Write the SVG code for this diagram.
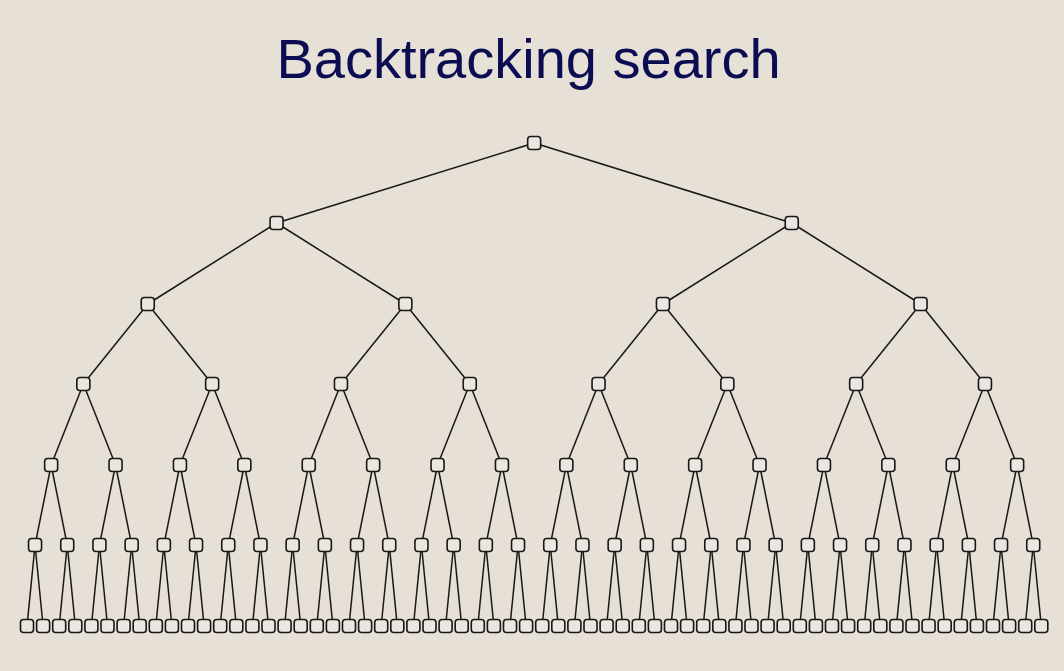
<svg xmlns="http://www.w3.org/2000/svg" xmlns:xlink="http://www.w3.org/1999/xlink" width="1064" height="671" viewBox="0 0 1064 671">
<style>
.bg{fill:#e6e0d6}
.t{font-family:"Liberation Sans",Arial,sans-serif;font-size:56px;fill:#0c0c52}
.e path{stroke:#181818;stroke-width:1.5;fill:none}
.bx{fill:#ebe7e0;stroke:#181818;stroke-width:1.6}
</style>
<defs>
<rect id="b" class="bx" x="-6.5" y="-6.5" width="13" height="13" rx="3"/>
</defs>
<rect class="bg" x="0" y="0" width="1064" height="671"/>
<text class="t" x="528.5" y="78" text-anchor="middle">Backtracking search</text>
<g id="connectors" class="e">
<path d="M534.15 143L276.55 223"/><path d="M534.15 143L791.75 223"/>
<path d="M276.55 223L147.75 304"/><path d="M276.55 223L405.35 304"/><path d="M791.75 223L662.95 304"/><path d="M791.75 223L920.55 304"/>
<path d="M147.75 304L83.35 384"/><path d="M147.75 304L212.15 384"/><path d="M405.35 304L340.95 384"/><path d="M405.35 304L469.75 384"/><path d="M662.95 304L598.55 384"/><path d="M662.95 304L727.35 384"/><path d="M920.55 304L856.15 384"/><path d="M920.55 304L984.95 384"/>
<path d="M83.35 384L51.15 465"/><path d="M83.35 384L115.55 465"/><path d="M212.15 384L179.95 465"/><path d="M212.15 384L244.35 465"/><path d="M340.95 384L308.75 465"/><path d="M340.95 384L373.15 465"/><path d="M469.75 384L437.55 465"/><path d="M469.75 384L501.95 465"/><path d="M598.55 384L566.35 465"/><path d="M598.55 384L630.75 465"/><path d="M727.35 384L695.15 465"/><path d="M727.35 384L759.55 465"/><path d="M856.15 384L823.95 465"/><path d="M856.15 384L888.35 465"/><path d="M984.95 384L952.75 465"/><path d="M984.95 384L1017.15 465"/>
<path d="M51.15 465L35.05 545"/><path d="M51.15 465L67.25 545"/><path d="M115.55 465L99.45 545"/><path d="M115.55 465L131.65 545"/><path d="M179.95 465L163.85 545"/><path d="M179.95 465L196.05 545"/><path d="M244.35 465L228.25 545"/><path d="M244.35 465L260.45 545"/><path d="M308.75 465L292.65 545"/><path d="M308.75 465L324.85 545"/><path d="M373.15 465L357.05 545"/><path d="M373.15 465L389.25 545"/><path d="M437.55 465L421.45 545"/><path d="M437.55 465L453.65 545"/><path d="M501.95 465L485.85 545"/><path d="M501.95 465L518.05 545"/><path d="M566.35 465L550.25 545"/><path d="M566.35 465L582.45 545"/><path d="M630.75 465L614.65 545"/><path d="M630.75 465L646.85 545"/><path d="M695.15 465L679.05 545"/><path d="M695.15 465L711.25 545"/><path d="M759.55 465L743.45 545"/><path d="M759.55 465L775.65 545"/><path d="M823.95 465L807.85 545"/><path d="M823.95 465L840.05 545"/><path d="M888.35 465L872.25 545"/><path d="M888.35 465L904.45 545"/><path d="M952.75 465L936.65 545"/><path d="M952.75 465L968.85 545"/><path d="M1017.15 465L1001.05 545"/><path d="M1017.15 465L1033.25 545"/>
<path d="M35.05 545L27 626"/><path d="M35.05 545L43.1 626"/><path d="M67.25 545L59.2 626"/><path d="M67.25 545L75.3 626"/><path d="M99.45 545L91.4 626"/><path d="M99.45 545L107.5 626"/><path d="M131.65 545L123.6 626"/><path d="M131.65 545L139.7 626"/><path d="M163.85 545L155.8 626"/><path d="M163.85 545L171.9 626"/><path d="M196.05 545L188 626"/><path d="M196.05 545L204.1 626"/><path d="M228.25 545L220.2 626"/><path d="M228.25 545L236.3 626"/><path d="M260.45 545L252.4 626"/><path d="M260.45 545L268.5 626"/><path d="M292.65 545L284.6 626"/><path d="M292.65 545L300.7 626"/><path d="M324.85 545L316.8 626"/><path d="M324.85 545L332.9 626"/><path d="M357.05 545L349 626"/><path d="M357.05 545L365.1 626"/><path d="M389.25 545L381.2 626"/><path d="M389.25 545L397.3 626"/><path d="M421.45 545L413.4 626"/><path d="M421.45 545L429.5 626"/><path d="M453.65 545L445.6 626"/><path d="M453.65 545L461.7 626"/><path d="M485.85 545L477.8 626"/><path d="M485.85 545L493.9 626"/><path d="M518.05 545L510 626"/><path d="M518.05 545L526.1 626"/><path d="M550.25 545L542.2 626"/><path d="M550.25 545L558.3 626"/><path d="M582.45 545L574.4 626"/><path d="M582.45 545L590.5 626"/><path d="M614.65 545L606.6 626"/><path d="M614.65 545L622.7 626"/><path d="M646.85 545L638.8 626"/><path d="M646.85 545L654.9 626"/><path d="M679.05 545L671 626"/><path d="M679.05 545L687.1 626"/><path d="M711.25 545L703.2 626"/><path d="M711.25 545L719.3 626"/><path d="M743.45 545L735.4 626"/><path d="M743.45 545L751.5 626"/><path d="M775.65 545L767.6 626"/><path d="M775.65 545L783.7 626"/><path d="M807.85 545L799.8 626"/><path d="M807.85 545L815.9 626"/><path d="M840.05 545L832 626"/><path d="M840.05 545L848.1 626"/><path d="M872.25 545L864.2 626"/><path d="M872.25 545L880.3 626"/><path d="M904.45 545L896.4 626"/><path d="M904.45 545L912.5 626"/><path d="M936.65 545L928.6 626"/><path d="M936.65 545L944.7 626"/><path d="M968.85 545L960.8 626"/><path d="M968.85 545L976.9 626"/><path d="M1001.05 545L993 626"/><path d="M1001.05 545L1009.1 626"/><path d="M1033.25 545L1025.2 626"/><path d="M1033.25 545L1041.3 626"/>
</g>
<g id="nodes">
<g id="r"><use href="#b" x="534.15" y="143"/></g>
<g id="a0"><use href="#b" x="276.55" y="223"/></g><g id="a1"><use href="#b" x="791.75" y="223"/></g>
<g id="b0"><use href="#b" x="147.75" y="304"/></g><g id="b1"><use href="#b" x="405.35" y="304"/></g><g id="b2"><use href="#b" x="662.95" y="304"/></g><g id="b3"><use href="#b" x="920.55" y="304"/></g>
<g id="c0"><use href="#b" x="83.35" y="384"/></g><g id="c1"><use href="#b" x="212.15" y="384"/></g><g id="c2"><use href="#b" x="340.95" y="384"/></g><g id="c3"><use href="#b" x="469.75" y="384"/></g><g id="c4"><use href="#b" x="598.55" y="384"/></g><g id="c5"><use href="#b" x="727.35" y="384"/></g><g id="c6"><use href="#b" x="856.15" y="384"/></g><g id="c7"><use href="#b" x="984.95" y="384"/></g>
<g id="d0"><use href="#b" x="51.15" y="465"/></g><g id="d1"><use href="#b" x="115.55" y="465"/></g><g id="d2"><use href="#b" x="179.95" y="465"/></g><g id="d3"><use href="#b" x="244.35" y="465"/></g><g id="d4"><use href="#b" x="308.75" y="465"/></g><g id="d5"><use href="#b" x="373.15" y="465"/></g><g id="d6"><use href="#b" x="437.55" y="465"/></g><g id="d7"><use href="#b" x="501.95" y="465"/></g><g id="d8"><use href="#b" x="566.35" y="465"/></g><g id="d9"><use href="#b" x="630.75" y="465"/></g><g id="d10"><use href="#b" x="695.15" y="465"/></g><g id="d11"><use href="#b" x="759.55" y="465"/></g><g id="d12"><use href="#b" x="823.95" y="465"/></g><g id="d13"><use href="#b" x="888.35" y="465"/></g><g id="d14"><use href="#b" x="952.75" y="465"/></g><g id="d15"><use href="#b" x="1017.15" y="465"/></g>
<g id="e0"><use href="#b" x="35.05" y="545"/></g><g id="e1"><use href="#b" x="67.25" y="545"/></g><g id="e2"><use href="#b" x="99.45" y="545"/></g><g id="e3"><use href="#b" x="131.65" y="545"/></g><g id="e4"><use href="#b" x="163.85" y="545"/></g><g id="e5"><use href="#b" x="196.05" y="545"/></g><g id="e6"><use href="#b" x="228.25" y="545"/></g><g id="e7"><use href="#b" x="260.45" y="545"/></g><g id="e8"><use href="#b" x="292.65" y="545"/></g><g id="e9"><use href="#b" x="324.85" y="545"/></g><g id="e10"><use href="#b" x="357.05" y="545"/></g><g id="e11"><use href="#b" x="389.25" y="545"/></g><g id="e12"><use href="#b" x="421.45" y="545"/></g><g id="e13"><use href="#b" x="453.65" y="545"/></g><g id="e14"><use href="#b" x="485.85" y="545"/></g><g id="e15"><use href="#b" x="518.05" y="545"/></g><g id="e16"><use href="#b" x="550.25" y="545"/></g><g id="e17"><use href="#b" x="582.45" y="545"/></g><g id="e18"><use href="#b" x="614.65" y="545"/></g><g id="e19"><use href="#b" x="646.85" y="545"/></g><g id="e20"><use href="#b" x="679.05" y="545"/></g><g id="e21"><use href="#b" x="711.25" y="545"/></g><g id="e22"><use href="#b" x="743.45" y="545"/></g><g id="e23"><use href="#b" x="775.65" y="545"/></g><g id="e24"><use href="#b" x="807.85" y="545"/></g><g id="e25"><use href="#b" x="840.05" y="545"/></g><g id="e26"><use href="#b" x="872.25" y="545"/></g><g id="e27"><use href="#b" x="904.45" y="545"/></g><g id="e28"><use href="#b" x="936.65" y="545"/></g><g id="e29"><use href="#b" x="968.85" y="545"/></g><g id="e30"><use href="#b" x="1001.05" y="545"/></g><g id="e31"><use href="#b" x="1033.25" y="545"/></g>
<g id="f0"><use href="#b" x="27" y="626"/></g><g id="f1"><use href="#b" x="43.1" y="626"/></g><g id="f2"><use href="#b" x="59.2" y="626"/></g><g id="f3"><use href="#b" x="75.3" y="626"/></g><g id="f4"><use href="#b" x="91.4" y="626"/></g><g id="f5"><use href="#b" x="107.5" y="626"/></g><g id="f6"><use href="#b" x="123.6" y="626"/></g><g id="f7"><use href="#b" x="139.7" y="626"/></g><g id="f8"><use href="#b" x="155.8" y="626"/></g><g id="f9"><use href="#b" x="171.9" y="626"/></g><g id="f10"><use href="#b" x="188" y="626"/></g><g id="f11"><use href="#b" x="204.1" y="626"/></g><g id="f12"><use href="#b" x="220.2" y="626"/></g><g id="f13"><use href="#b" x="236.3" y="626"/></g><g id="f14"><use href="#b" x="252.4" y="626"/></g><g id="f15"><use href="#b" x="268.5" y="626"/></g><g id="f16"><use href="#b" x="284.6" y="626"/></g><g id="f17"><use href="#b" x="300.7" y="626"/></g><g id="f18"><use href="#b" x="316.8" y="626"/></g><g id="f19"><use href="#b" x="332.9" y="626"/></g><g id="f20"><use href="#b" x="349" y="626"/></g><g id="f21"><use href="#b" x="365.1" y="626"/></g><g id="f22"><use href="#b" x="381.2" y="626"/></g><g id="f23"><use href="#b" x="397.3" y="626"/></g><g id="f24"><use href="#b" x="413.4" y="626"/></g><g id="f25"><use href="#b" x="429.5" y="626"/></g><g id="f26"><use href="#b" x="445.6" y="626"/></g><g id="f27"><use href="#b" x="461.7" y="626"/></g><g id="f28"><use href="#b" x="477.8" y="626"/></g><g id="f29"><use href="#b" x="493.9" y="626"/></g><g id="f30"><use href="#b" x="510" y="626"/></g><g id="f31"><use href="#b" x="526.1" y="626"/></g><g id="f32"><use href="#b" x="542.2" y="626"/></g><g id="f33"><use href="#b" x="558.3" y="626"/></g><g id="f34"><use href="#b" x="574.4" y="626"/></g><g id="f35"><use href="#b" x="590.5" y="626"/></g><g id="f36"><use href="#b" x="606.6" y="626"/></g><g id="f37"><use href="#b" x="622.7" y="626"/></g><g id="f38"><use href="#b" x="638.8" y="626"/></g><g id="f39"><use href="#b" x="654.9" y="626"/></g><g id="f40"><use href="#b" x="671" y="626"/></g><g id="f41"><use href="#b" x="687.1" y="626"/></g><g id="f42"><use href="#b" x="703.2" y="626"/></g><g id="f43"><use href="#b" x="719.3" y="626"/></g><g id="f44"><use href="#b" x="735.4" y="626"/></g><g id="f45"><use href="#b" x="751.5" y="626"/></g><g id="f46"><use href="#b" x="767.6" y="626"/></g><g id="f47"><use href="#b" x="783.7" y="626"/></g><g id="f48"><use href="#b" x="799.8" y="626"/></g><g id="f49"><use href="#b" x="815.9" y="626"/></g><g id="f50"><use href="#b" x="832" y="626"/></g><g id="f51"><use href="#b" x="848.1" y="626"/></g><g id="f52"><use href="#b" x="864.2" y="626"/></g><g id="f53"><use href="#b" x="880.3" y="626"/></g><g id="f54"><use href="#b" x="896.4" y="626"/></g><g id="f55"><use href="#b" x="912.5" y="626"/></g><g id="f56"><use href="#b" x="928.6" y="626"/></g><g id="f57"><use href="#b" x="944.7" y="626"/></g><g id="f58"><use href="#b" x="960.8" y="626"/></g><g id="f59"><use href="#b" x="976.9" y="626"/></g><g id="f60"><use href="#b" x="993" y="626"/></g><g id="f61"><use href="#b" x="1009.1" y="626"/></g><g id="f62"><use href="#b" x="1025.2" y="626"/></g><g id="f63"><use href="#b" x="1041.3" y="626"/></g>
</g>
</svg>
